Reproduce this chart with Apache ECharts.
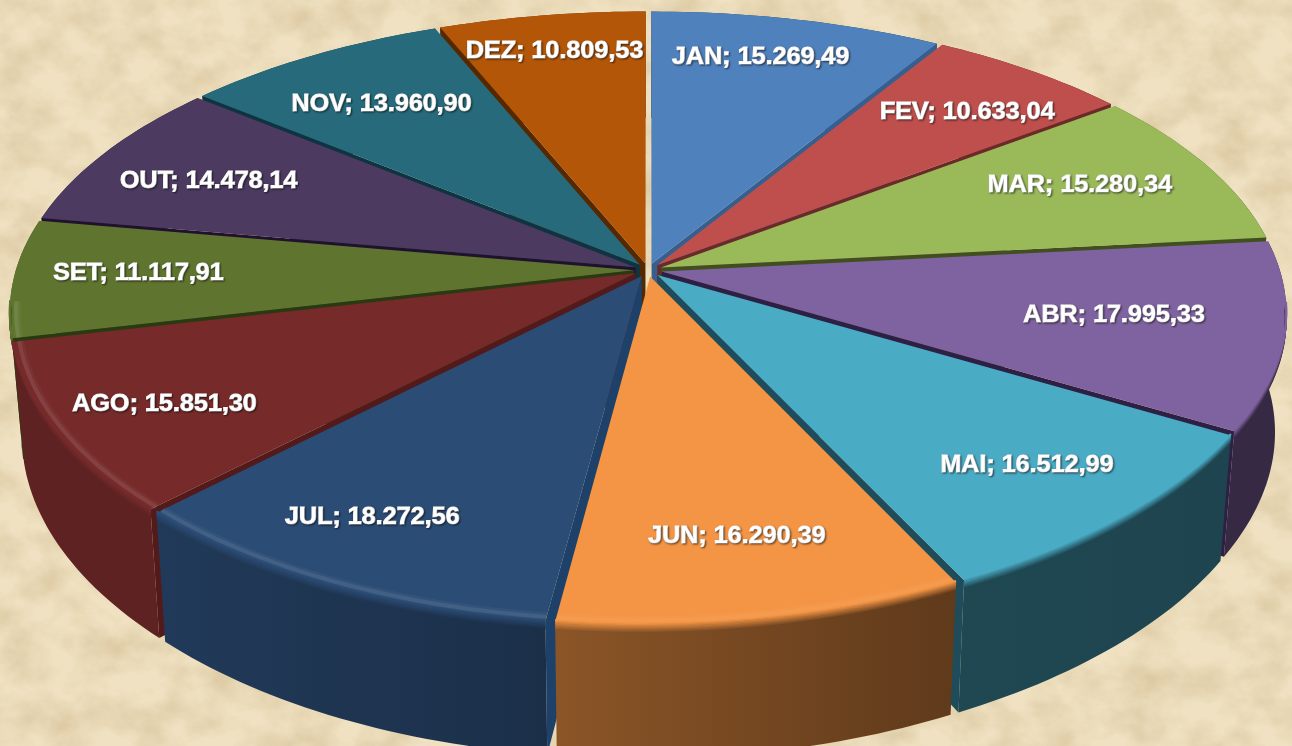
<!DOCTYPE html>
<html>
<head>
<meta charset="utf-8">
<title>Pizza 3D</title>
<script src="https://cdn.jsdelivr.net/npm/echarts@6/dist/echarts.min.js"></script>
<style>
html,body{margin:0;padding:0;width:1292px;height:746px;overflow:hidden;background:#EEDFBE}
#bg{position:absolute;left:0;top:0;width:1292px;height:746px}
#chart{position:absolute;left:0;top:0;width:1292px;height:746px}
</style>
</head>
<body>
<svg id="bg" xmlns="http://www.w3.org/2000/svg">
  <filter id="paper" x="0" y="0" width="100%" height="100%">
    <feTurbulence type="fractalNoise" baseFrequency="0.024 0.03" numOctaves="5" seed="7"/>
    <feColorMatrix type="matrix" values="0 0 0 0 0.70  0 0 0 0 0.56  0 0 0 0 0.34  1.5 0 0 0 -0.52"/>
  </filter>
  <rect width="1292" height="746" fill="#EFE1C1"/>
  <rect width="1292" height="746" filter="url(#paper)"/>
</svg>
<div id="chart"></div>
<script>
const categories = ['JAN','FEV','MAR','ABR','MAI','JUN','JUL','AGO','SET','OUT','NOV','DEZ'];
const values = [15269.49,10633.04,15280.34,17995.33,16512.99,16290.39,18272.56,15851.30,11117.91,14478.14,13960.90,10809.53];
const topColors = ['#4F81BD','#BE4F4C','#9ABA59','#7F62A0','#4AABC5','#F49545','#2B4C75','#762A2A','#5F752F','#4C3A61','#266A7B','#B45608'];
const edgeColors = ['#365F8F','#6B2A2A','#414F20','#2E2045','#1E4C5A','#5A3414','#1E4169','#521A1A','#2A3A10','#20122F','#0F3340','#552800'];
const wallShade = [[.55,.4],[.55,.4],[.55,.4],[.42,.42],[.42,.4],[.57,.39],[.76,.62],[.8,.8],[.7,.6],[.7,.6],[.7,.6],[.6,.5]];

// view model of the tilted, perspective disc
const CX = 648, CY = 270, AX = 634, BY = 301, KX = 0.14, KY = 0.161, DEPTH = 120, SHRINK = 0.018;
const SHEAR = 6, SAG = 3;
const R = 0.975, EXPLODE = 0.022;
// label placement: [radius ratio along the slice bisector, dx, dy]
const labelLayout = [[.85,-17,5],[.8,6,6],[.8,-21,0],[.75,-9,-3],[.8,6,2],[.8,0,-4],[.8,-26,3],[.8,-14,9],[.8,-1,-3],[.8,1,7],[.8,9,10],[.85,-1,3]];

const total = values.reduce((s, v) => s + v, 0);
const starts = [];
values.reduce((s, v, i) => { starts[i] = s; return s + v; }, 0);
const toAngle = v => v / total * Math.PI * 2;

function project(u, v, z) {
  const s = 1 + SHRINK * z, f = Math.max(v, 0);
  return [CX + AX * u / ((1 - KX * v) * s),
          CY + (BY * v + DEPTH * z) / ((1 - KY * v) * s) - SHEAR * u * f - SAG * f * f];
}
function hex(c) { return [1,3,5].map(i => parseInt(c.substr(i,2),16)); }
function mix(c1, c2, t) {
  const a = hex(c1), b = hex(c2);
  return 'rgb(' + a.map((x,i) => Math.round(x + (b[i]-x)*t)).join(',') + ')';
}
function toHex(c, f) { return '#' + hex(c).map(x => Math.round(x*f).toString(16).padStart(2,'0')).join(''); }
function area(p) {
  let s = 0;
  p.forEach((q,i) => { const n = p[(i+1)%p.length]; s += q[0]*n[1]-n[0]*q[1]; });
  return s;
}
function formatValue(v) {
  const [a, b] = v.toFixed(2).split('.');
  return a.replace(/\B(?=(\d{3})+$)/g, '.') + ',' + b;
}
const midV = values.map((v,i) => -Math.cos(toAngle(starts[i] + v/2)));
const order = midV.map((v,i) => i).sort((p,q) => midV[p]-midV[q]);
const horiz = (c0, c1) => new echarts.graphic.LinearGradient(0,0,1,0,[{offset:0,color:c0},{offset:1,color:c1}]);

function renderSlice(params, api) {
  const i = params.dataIndex, val = api.value(0);
  const a0 = toAngle(starts[i]), a1 = toAngle(starts[i] + val), am = (a0+a1)/2;
  const ox = Math.sin(am)*EXPLODE, oy = -Math.cos(am)*EXPLODE;
  const P = (ang, r, z) => project(ox + r*Math.sin(ang), oy - r*Math.cos(ang), z);
  const rank = order.indexOf(i) * 100;
  const steps = Math.max(8, Math.ceil((a1-a0)/0.02));
  const angs = [];
  for (let s = 0; s <= steps; s++) angs.push(a0 + (a1-a0)*s/steps);
  const arc = (r, z, list) => (list||angs).map(t => P(t, r, z));
  const top = topColors[i], edge = edgeColors[i];
  const wallL = toHex(top, wallShade[i][0]), wallD = toHex(top, wallShade[i][1]);
  const kids = [];
  // outer wall
  const wall = arc(R,0).concat(arc(R,1).reverse());
  kids.push({type:'polygon', z2:rank+1, shape:{points:wall}, style:{fill:horiz(wallL, wallD)}});
  // radial walls, only when they face the viewer
  const radial = t => [P(t,0,0),P(t,R,0),P(t,R,1),P(t,0,1)];
  const rs = radial(a0), re = radial(a1);
  if (area(rs) < 0) kids.push({type:'polygon', z2:rank+2, shape:{points:rs}, style:{fill:edge}});
  if (area(re) > 0) kids.push({type:'polygon', z2:rank+2, shape:{points:re}, style:{fill:edge}});
  // top face
  kids.push({type:'polygon', z2:rank+3, shape:{points:[P(0,0,0)].concat(arc(R,0))}, style:{fill:top}});
  // soft bevel along the front rim: blend from the top colour into the wall colour
  const front = angs.filter(t => -Math.cos(t) > 0.1);
  if (front.length > 1) {
    const n = 7;
    for (let k = n; k >= 0; k--) {
      const t = k / n;
      kids.push({type:'polyline', z2:rank+4, shape:{points:arc(R, -0.012 + 0.07*t, front)},
        style:{fill:null, lineWidth:1.8, stroke:horiz(mix(top, wallL, t), mix(top, wallD, t))}});
    }
    if (i >= 5) {
      const strong = i > 5;
      kids.push({type:'polyline', z2:rank+5, shape:{points:arc(R*.99,0,front)},
        style:{fill:null, stroke: strong ? 'rgba(255,255,255,0.08)' : 'rgba(255,255,255,0.04)', lineWidth:4}});
      kids.push({type:'polyline', z2:rank+5, shape:{points:arc(R*.988,0,front)},
        style:{fill:null, stroke: strong ? 'rgba(255,255,255,0.04)' : 'rgba(255,255,255,0.02)', lineWidth:7}});
    }
  }
  return {type:'group', children:kids};
}

function renderLabel(params, api) {
  const i = params.dataIndex, val = api.value(0);
  const am = toAngle(starts[i] + val/2);
  const [r, dx, dy] = labelLayout[i];
  const p = project(r*Math.sin(am), -r*Math.cos(am), 0);
  return {type:'text', z2:5000, x:p[0]+dx, y:p[1]+dy, scaleX:1.07, style:{
    text: categories[i] + '; ' + formatValue(val),
    x:0, y:0, align:'center', verticalAlign:'middle',
    font:'bold 23.5px "Liberation Sans", Arial, sans-serif', fill:'#fff',
    stroke:'#fff', lineWidth:1,
    textShadowColor:'rgba(0,0,0,0.5)', textShadowBlur:2, textShadowOffsetX:1, textShadowOffsetY:1
  }};
}

const seriesData = values.map((v,i) => ({name:categories[i], value:[v]}));
const chart = echarts.init(document.getElementById('chart'), null, {renderer:'canvas'});
chart.setOption({
  animation:false,
  backgroundColor:'transparent',
  series:[
    {type:'custom', coordinateSystem:'none', renderItem:renderSlice, data:seriesData, silent:true, clip:false},
    {type:'custom', coordinateSystem:'none', renderItem:renderLabel, data:seriesData, silent:true, clip:false, z:5}
  ]
});
</script>
</body>
</html>
